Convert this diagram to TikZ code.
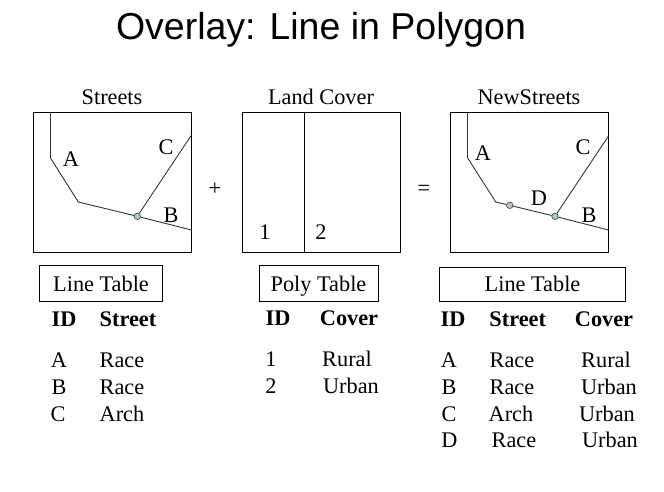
\documentclass[tikz,border=0pt]{standalone}
\usepackage{fontspec}
\setmainfont{Liberation Serif}
\newfontfamily\titlefont{Liberation Sans}
\definecolor{nodefill}{HTML}{A9CBCB}
\tikzset{
	label/.style={anchor=base,inner sep=0pt,yshift=-0.7pt,font=\fontsize{22.3}{24}\selectfont},
	head/.style={label,font=\fontsize{22.3}{24}\selectfont\bfseries},
	titlebox/.style={draw=black,line width=1pt,anchor=north west,inner sep=0pt},
	street/.style={draw=black!80,line width=0.9pt},
	frame/.style={draw=black,line width=1pt},
	junction/.style={circle,draw=black!70,fill=nodefill,line width=0.7pt,minimum size=6.5pt,inner sep=0pt}
}
\begin{document}
\begin{tikzpicture}[x=1pt,y=-1pt]
		\useasboundingbox (0,0) rectangle (664,492);
		\node [anchor=base,inner sep=0pt,font=\fontsize{37.5}{40}\selectfont\titlefont] (title) at (321,40) {Overlay: Line in Polygon};
		% map frames
		\node [label] (streets) at (112,103.5) {Streets};
		\node [label] (landcover) at (321,103.5) {Land Cover};
		\node [label] (newstreets) at (529,103.5) {NewStreets};
		\draw [frame] (33.5,112.5) rectangle (191.5,252.5);
		\draw [frame] (242.5,112.5) rectangle (400.5,252.5);
		\draw [frame] (450.5,112.5) rectangle (608.5,252.5);
		\node [label] (plus) at (215,194.5) {+};
		\node [label] (equals) at (424,194.5) {=};
		% left map
		\coordinate (a0) at (50.5,112.5);
		\coordinate (a1) at (50.5,158);
		\coordinate (a2) at (78.3,202);
		\coordinate (b1) at (191.5,230);
		\coordinate (c1) at (191.5,135);
		\node [junction] (n1) at (137.3,216.3) {};
		\draw [street] (a0) -- (a1) -- (a2) -- (n1) -- (b1);
		\draw [street] (n1) -- (c1);
		\node [label] (la) at (71,166) {A};
		\node [label] (lc) at (166,153.5) {C};
		\node [label] (lb) at (171,221.7) {B};
		% middle map
		\coordinate (p0) at (304.5,112.5);
		\coordinate (p1) at (304.5,252.5);
		\draw [frame] (p0) -- (p1);
		\node [label] (one) at (265,239) {1};
		\node [label] (two) at (321,239) {2};
		% right map
		\coordinate (d0) at (467.5,112.5);
		\coordinate (d1) at (467.5,157.7);
		\coordinate (d2) at (495.7,202);
		\coordinate (e1) at (608.5,230);
		\coordinate (f1) at (608.5,136);
		\node [junction] (n2) at (509.7,205.3) {};
		\node [junction] (n3) at (555,216.3) {};
		\draw [street] (d0) -- (d1) -- (d2) -- (n2) -- (n3) -- (e1);
		\draw [street] (n3) -- (f1);
		\node [label] (ra) at (483,160) {A};
		\node [label] (rc) at (583,153.7) {C};
		\node [label] (rd) at (539,205) {D};
		\node [label] (rb) at (589,221.7) {B};
		% tables
		\node [titlebox,minimum width=123pt,minimum height=36pt] (t1) at (38.8,264.8) {};
		\node [label] (t1l) at (101,291) {Line Table};
		\node [titlebox,minimum width=119pt,minimum height=36pt] (t2) at (258.8,264.8) {};
		\node [label] (t2l) at (318.5,291) {Poly Table};
		\node [titlebox,minimum width=186pt,minimum height=34pt] (t3) at (438.8,266.8) {};
		\node [label] (t3l) at (532.5,291) {Line Table};
		\foreach \name/\x/\y/\txt in {h1/64/325.7/ID,h2/128/325.7/Street,h3/278/324.7/ID,h4/349/324.7/Cover,h5/453/325.7/ID,h6/517.7/325.7/Street,h7/604/325.7/Cover}
			\node [head] (\name) at (\x,\y) {\txt};
		\foreach \name/\x/\y/\txt in {
			u1/59/366.7/A,u2/122/366.7/Race,u3/59/393.3/B,u4/122/393.3/Race,u5/58/420.6/C,u6/122/420.6/Arch,
			v1/271/365.7/1,v2/347/365.7/Rural,v3/271/392.3/2,v4/351/392.3/Urban,
			w1/449/366.7/A,w2/512/366.7/Race,w3/606/366.7/Rural,
			w4/449/393.3/B,w5/512/393.3/Race,w6/609/393.3/Urban,
			w7/449/420.6/C,w8/511/420.6/Arch,w9/607/420.6/Urban,
			w10/449.5/447.2/D,w11/514/447.2/Race,w12/610/447.2/Urban}
			\node [label] (\name) at (\x,\y) {\txt};
		\end{tikzpicture}
\end{document}
